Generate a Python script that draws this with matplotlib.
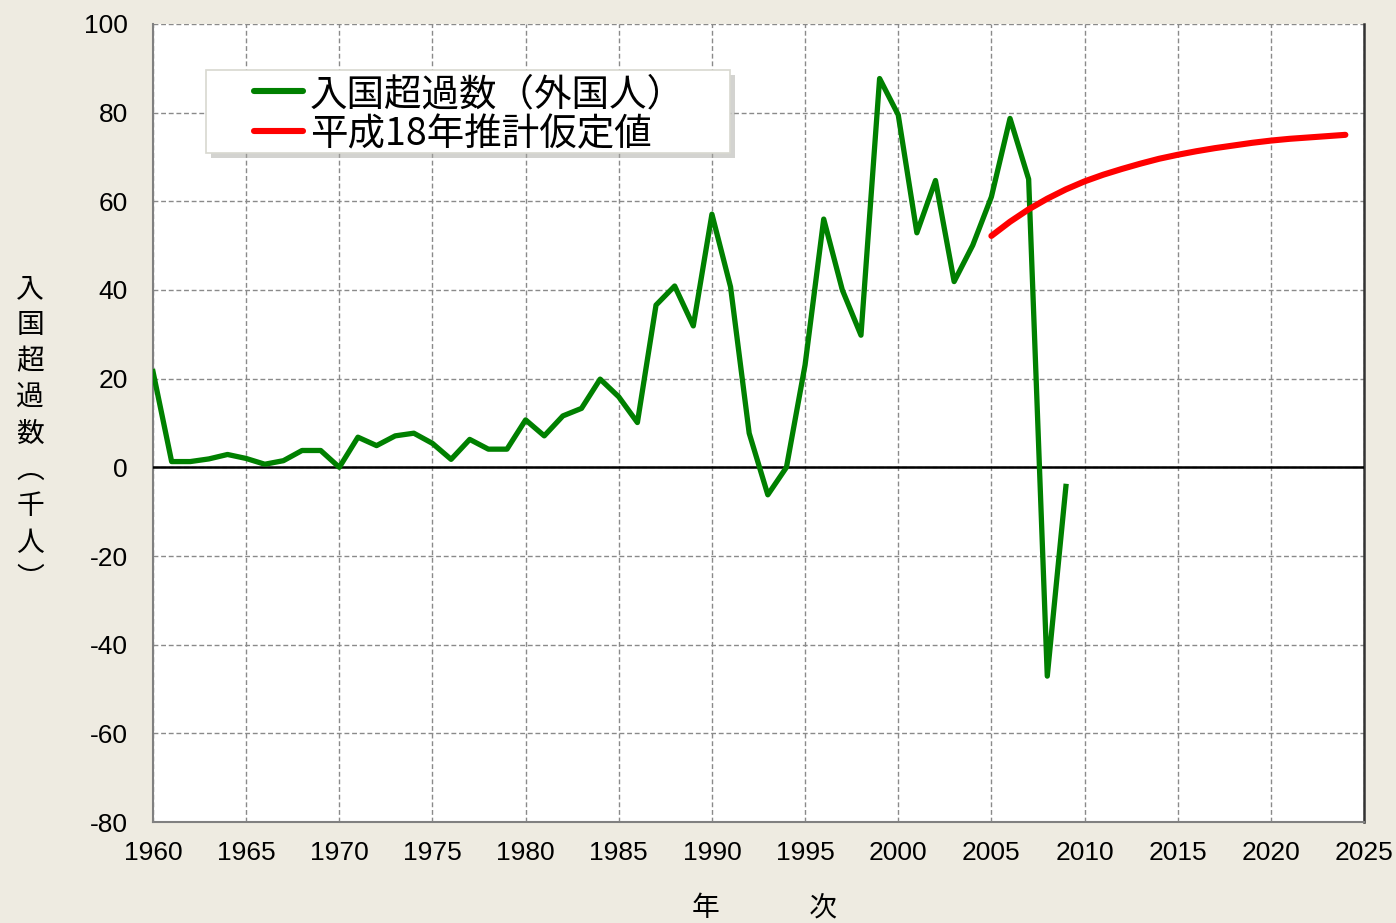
import matplotlib
matplotlib.use('Agg')
import matplotlib.pyplot as plt
from matplotlib.patches import Rectangle
from matplotlib.lines import Line2D

plt.rcParams['font.family'] = ['Liberation Sans', 'Noto Sans CJK JP', 'DejaVu Sans']
plt.rcParams['axes.unicode_minus'] = False

# 入国超過数（外国人）, thousand persons
years = list(range(1960, 2010))
net_migration = [21.6, 1.3, 1.3, 1.9, 2.9, 2.0, 0.7, 1.5, 3.8, 3.8,
                 0.0, 6.8, 4.9, 7.1, 7.7, 5.4, 1.8, 6.3, 4.1, 4.1,
                 10.7, 7.1, 11.6, 13.3, 19.9, 15.9, 10.1, 36.6, 40.9, 31.9,
                 57.1, 40.7, 7.7, -6.2, 0.0, 23.1, 56.0, 40.0, 29.8, 87.7,
                 79.5, 52.9, 64.7, 41.9, 50.1, 61.0, 78.7, 65.0, -47.1, -4.3]

# 平成18年推計仮定値
proj_years = list(range(2005, 2025))
proj_values = [52.2, 55.4, 58.2, 60.6, 62.7, 64.5, 66.0, 67.3, 68.5, 69.6,
               70.5, 71.3, 72.0, 72.6, 73.2, 73.7, 74.1, 74.4, 74.7, 75.0]

x_ticks = list(range(1960, 2030, 5))
y_ticks = list(range(-80, 120, 20))

label_green = '入国超過数（外国人）'
label_red = '平成18年推計仮定値'
green = '#008000'
red = '#FF0000'

W, H = 1396, 923
bg = '#EEEBE1'
fig = plt.figure(figsize=(W / 100, H / 100), dpi=100, facecolor=bg)
ax = fig.add_axes([153 / W, 1 - 822 / H, 1211 / W, 798 / H])
ax.set_facecolor('white')

ax.plot(years, net_migration, color=green, lw=3.8, zorder=4)
ax.plot(proj_years, proj_values, color=red, lw=4.4, solid_capstyle='round', zorder=4)
ax.axhline(0, color='black', lw=1.8, zorder=3)

ax.set_xlim(1960, 2025)
ax.set_ylim(-80, 100)
ax.set_xticks(x_ticks)
ax.set_yticks(y_ticks)
ax.tick_params(length=0, labelsize=19)
ax.tick_params(axis='y', pad=18)
ax.tick_params(axis='x', pad=14)
ax.grid(True, color='#8A8A8A', lw=1, linestyle=(0, (3.5, 2)), zorder=1)

ax.spines['left'].set_color('#808080')
ax.spines['bottom'].set_color('#808080')
ax.spines['left'].set_linewidth(1.5)
ax.spines['bottom'].set_linewidth(1.5)
ax.spines['right'].set_color('#333333')
ax.spines['right'].set_linewidth(1.8)
ax.spines['top'].set_visible(False)


# legend box drawn by hand (pixel positions turned into figure fractions)
def fx(px):
    return px / W


def fy(py):
    return 1 - py / H


box_l, box_r, box_t, box_b = 206, 730, 70, 153
fig.add_artist(Rectangle((fx(box_l + 5), fy(box_b + 5)), fx(box_r - box_l), (box_b - box_t) / H,
                         facecolor='#A8A8A2', edgecolor='none', alpha=0.5, zorder=5))
fig.add_artist(Rectangle((fx(box_l), fy(box_b)), fx(box_r - box_l), (box_b - box_t) / H,
                         facecolor='white', edgecolor='#D8D8D0', lw=1.2, zorder=6))
for row_y, col, lab in [(91, green, label_green), (131, red, label_red)]:
    fig.add_artist(Line2D([fx(254), fx(303)], [fy(row_y), fy(row_y)], color=col, lw=4.4,
                          solid_capstyle='round', zorder=7))
    fig.text(fx(310), fy(row_y + 4), lab, ha='left', va='center', fontsize=27,
             family=['Noto Sans CJK JP'], zorder=7)

fig.text(30 / W, 1 - 434 / H, '入\n国\n超\n過\n数\n︵\n千\n人\n︶',
         ha='center', va='center', fontsize=20, linespacing=1.27,
         family=['Noto Sans CJK JP'])
fig.text(764 / W, 1 - 908 / H, '年　　　 次', ha='center', va='center',
         fontsize=20, family=['Noto Sans CJK JP'])

fig.savefig('out.png', dpi=100, facecolor=bg)
